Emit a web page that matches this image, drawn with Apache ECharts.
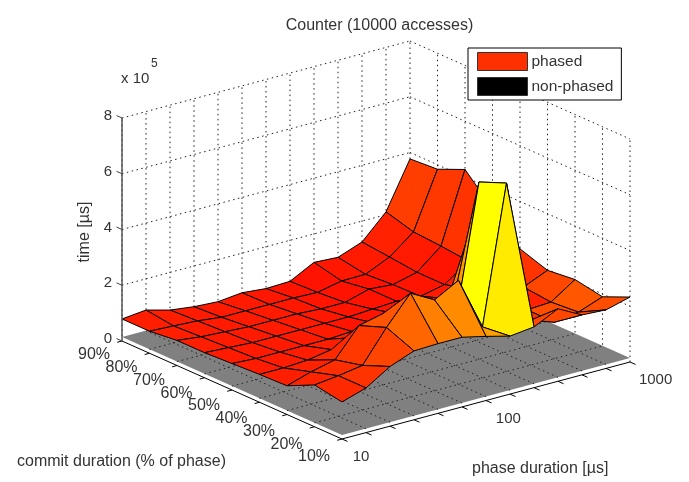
<!DOCTYPE html>
<html><head><meta charset="utf-8">
<style>html,body{margin:0;background:#fff}#c{width:689px;height:482px}</style>
<script src="https://cdn.jsdelivr.net/npm/echarts@6/dist/echarts.min.js"></script>
</head><body><div id="c"></div>
<script>
// phase duration axis: 13 log-spaced samples, labelled at decades
const phaseSamples = [10,15,22,32,46,68,100,147,215,316,464,681,1000];
const phaseLabels = {0:'10',6:'100',12:'1000'};
const commitLabels = ['10%','20%','30%','40%','50%','60%','70%','80%','90%'];
const timeTicks = [0,2,4,6,8];
// phased time (x 10^5 us), one array per commit duration, one entry per phase sample
const commit10 = [1.33,1.6,2.14,2.47,2.5,2.5,2.3,2.08,2.18,2.6,2.15,2.1,2.33];
const commit20 = [1.5,1.6,1.74,2.87,3.87,3.4,3.87,1.97,6.9,1.75,1.45,1.58,1.9];
const commit30 = [1.03,1.3,1.5,2.5,2.7,3.0,2.5,1.65,6.5,3.0,1.45,1.5,2.08];
const commit40 = [1.0,1.0,1.05,1.2,1.4,1.6,2.0,1.5,1.5,4.7,1.5,1.6,1.97];
const commit50 = [.95,.9,.9,.9,.9,.95,1.0,1.1,1.0,1.2,1.3,1.6,2.3];
const commit60 = [.9,.85,.8,.8,.8,.8,.8,.85,.9,.85,1.04,1.65,3.3];
const commit70 = [.9,.8,.75,.7,.7,.7,.65,.65,.9,.83,1.04,1.75,4.27];
const commit80 = [.79,.75,.7,.6,.6,.6,.6,.57,.75,.76,1.15,1.82,3.84];
const commit90 = [.79,.88,.65,.54,.49,.58,.5,.53,.98,.93,1.25,2.1,3.77];
const phasedTime = [commit10,commit20,commit30,commit40,commit50,commit60,commit70,commit80,commit90];
// facet colour level (0 red .. 1 yellow), one array per commit interval
const shade10 = [.16,.2,.27,.4,.5,.55,.62,.92,.28,.28,.28,.3];
const shade20 = [.14,.18,.22,.33,.35,.4,.6,1,.2,.2,.3,.34];
const shade30 = [.12,.13,.16,.2,.2,.2,.3,.6,.55,.16,.13,.28];
const shade40 = [.11,.11,.11,.12,.14,.15,.15,.3,.5,.45,.13,.2];
const shade50 = [.1,.1,.1,.1,.1,.08,.08,.08,.08,.1,.1,.12];
const shade60 = [.12,.1,.1,.1,.1,.09,.08,.07,.07,.08,.08,.2];
const shade70 = [.12,.11,.1,.1,.1,.09,.08,.07,.07,.08,.1,.22];
const shade80 = [.12,.12,.1,.1,.1,.09,.08,.07,.09,.1,.13,.24];
const facetShade = [shade10,shade20,shade30,shade40,shade50,shade60,shade70,shade80];
const nonPhasedLevel = 0.14;

const nP = phaseSamples.length-1, nQ = commitLabels.length-1, zMax = timeTicks[timeTicks.length-1];
// orthographic view
const view = {ox:342, oy:439, ux:288, uy:-77, vx:-220, vy:-98, zh:223};
function proj(p,q,z){
  return [view.ox+view.ux*p/nP+view.vx*q/nQ, view.oy+view.uy*p/nP+view.vy*q/nQ-view.zh*z/zMax];
}
const dotted = {stroke:'#222',lineWidth:1,lineDash:[1.5,3.5]};
const solid = {stroke:'#000',lineWidth:1};
const textFill = '#333', fontFamily='"Liberation Sans",Arial,sans-serif';

const facets=[];
for(let q=0;q<nQ;q++)for(let p=0;p<nP;p++)facets.push([p,q,facetShade[q][p]]);
facets.sort((a,b)=>(6.4*b[0]+12.25*b[1])-(6.4*a[0]+12.25*a[1]));

// reference lines in axis units [p1,q1,z1,p2,q2,z2]
const wallLines=[];
for(let p=0;p<=nP;p++)wallLines.push([p,nQ,0,p,nQ,zMax]);
for(let q=0;q<nQ;q++)wallLines.push([nP,q,0,nP,q,zMax]);
timeTicks.slice(1).forEach(t=>{wallLines.push([0,nQ,t,nP,nQ,t]);wallLines.push([nP,nQ,t,nP,0,t]);});
const floorLines=[];
for(let p=1;p<nP;p++)floorLines.push([p,0,nonPhasedLevel,p,nQ,nonPhasedLevel]);
for(let q=1;q<nQ;q++)floorLines.push([0,q,nonPhasedLevel,nP,q,nonPhasedLevel]);

function lineEl(d,style){const a=proj(d[0],d[1],d[2]),b=proj(d[3],d[4],d[5]);
  return {type:'line',shape:{x1:a[0],y1:a[1],x2:b[0],y2:b[1]},style};}
const tickLen=0.2;
const axisItems=[];
commitLabels.forEach((l,q)=>axisItems.push({k:'v',q,l}));
phaseSamples.forEach((s,p)=>axisItems.push({k:'u',p,l:phaseLabels[p]||''}));
timeTicks.forEach(t=>axisItems.push({k:'z',t,l:String(t)}));

function axisRender(params){
  const d=axisItems[params.dataIndex],ch=[];
  const label=(x,y,t,align,size)=>ch.push({type:'text',style:{x,y,text:t,textAlign:align||'center',textVerticalAlign:'middle',fill:textFill,font:size+'px '+fontFamily}});
  if(d.k==='v'){const a=proj(0,d.q,0),b=proj(-tickLen,d.q,0);
    ch.push({type:'line',shape:{x1:a[0],y1:a[1],x2:b[0],y2:b[1]},style:solid});
    label(a[0]-28,a[1]+14+(8-d.q)*0.5,d.l,'center',16);
  } else if(d.k==='u'){const a=proj(d.p,0,0),b=proj(d.p,-tickLen,0);
    ch.push({type:'line',shape:{x1:a[0],y1:a[1],x2:b[0],y2:b[1]},style:solid});
    if(d.l)label(a[0]+19+d.p*0.55,a[1]+18,d.l,'center',15);
  } else {const a=proj(0,nQ,d.t),b=proj(0,nQ+tickLen,d.t);
    ch.push({type:'line',shape:{x1:a[0],y1:a[1],x2:b[0],y2:b[1]},style:{stroke:'#444',lineWidth:1}});
    label(a[0]-10,a[1]-2,d.l,'right',15);
  }
  return {type:'group',children:ch};
}
const chart=echarts.init(document.getElementById('c'),null,{renderer:'canvas'});
chart.setOption({
  animation:false,
  backgroundColor:'#fff',
  title:{text:'Counter (10000 accesses)',left:374.5,top:13,textAlign:'center',
    textStyle:{fontSize:16,fontWeight:'normal',color:textFill,fontFamily}},
  legend:{left:468,top:48,orient:'vertical',padding:[4,8,4,9],itemGap:6,itemWidth:50,itemHeight:18,
    backgroundColor:'#fff',borderColor:'#000',borderWidth:1,borderRadius:0,
    textStyle:{fontSize:15.5,color:textFill,fontFamily,padding:[0,0,0,-1]},
    data:[{name:'phased',icon:'rect',itemStyle:{color:'#ff3000',borderColor:'#333',borderWidth:1}},
          {name:'non-phased',icon:'rect',itemStyle:{color:'#000',borderColor:'#333',borderWidth:1}}],
    zlevel:2,z:50},
  graphic:[
    {type:'text',style:{x:121,y:79,text:'x 10',textVerticalAlign:'middle',fill:textFill,font:'15px '+fontFamily}},
    {type:'text',style:{x:151,y:64,text:'5',textVerticalAlign:'middle',fill:textFill,font:'12px '+fontFamily}},
    {type:'text',rotation:Math.PI/2,x:85,y:232,style:{x:0,y:0,text:'time [µs]',textAlign:'center',textVerticalAlign:'middle',fill:textFill,font:'16px '+fontFamily}},
    {type:'text',style:{x:17,y:462,text:'commit duration (% of phase)',textVerticalAlign:'middle',fill:textFill,font:'16px '+fontFamily}},
    {type:'text',style:{x:472,y:469,text:'phase duration [µs]',textVerticalAlign:'middle',fill:textFill,font:'16px '+fontFamily}}
  ],
  series:[
    {type:'custom',name:'walls',coordinateSystem:'none',z:1,silent:true,data:wallLines,
      renderItem:(pr)=>lineEl(wallLines[pr.dataIndex],dotted)},
    {type:'custom',name:'non-phased',coordinateSystem:'none',z:2,silent:true,data:[nonPhasedLevel],
      itemStyle:{color:'#000'},
      renderItem:()=>{const L=nonPhasedLevel;
        return {type:'polygon',shape:{points:[proj(0,0,L),proj(nP,0,L),proj(nP,nQ,L),proj(0,nQ,L)]},style:{fill:'#808080'}};}},
    {type:'custom',name:'floor',coordinateSystem:'none',z:3,silent:true,data:floorLines,
      renderItem:(pr)=>lineEl(floorLines[pr.dataIndex],dotted)},
    {type:'custom',name:'phased',coordinateSystem:'none',z:4,silent:true,data:facets,
      itemStyle:{color:'#ff3000'},
      renderItem:(pr)=>{const [p,q,s]=facets[pr.dataIndex];
        const pts=[proj(p,q,phasedTime[q][p]),proj(p+1,q,phasedTime[q][p+1]),proj(p+1,q+1,phasedTime[q+1][p+1]),proj(p,q+1,phasedTime[q+1][p])];
        return {type:'polygon',shape:{points:pts},style:{fill:'rgb(255,'+Math.round(255*s)+',0)',stroke:'#000',lineWidth:1,lineJoin:'round'}};}},
    {type:'custom',name:'axes',coordinateSystem:'none',z:5,silent:true,data:axisItems.map((d,i)=>i),
      renderItem:axisRender},
    {type:'custom',name:'axisLines',coordinateSystem:'none',z:5,silent:true,data:[0,1,2],
      renderItem:(pr)=>{const s=[[0,nQ,0,0,0,0],[0,0,0,nP,0,0],[0,nQ,0,0,nQ,zMax]][pr.dataIndex];
        return lineEl(s,pr.dataIndex===2?{stroke:'#555',lineWidth:1.5}:solid);}}
  ]
});
</script></body></html>
